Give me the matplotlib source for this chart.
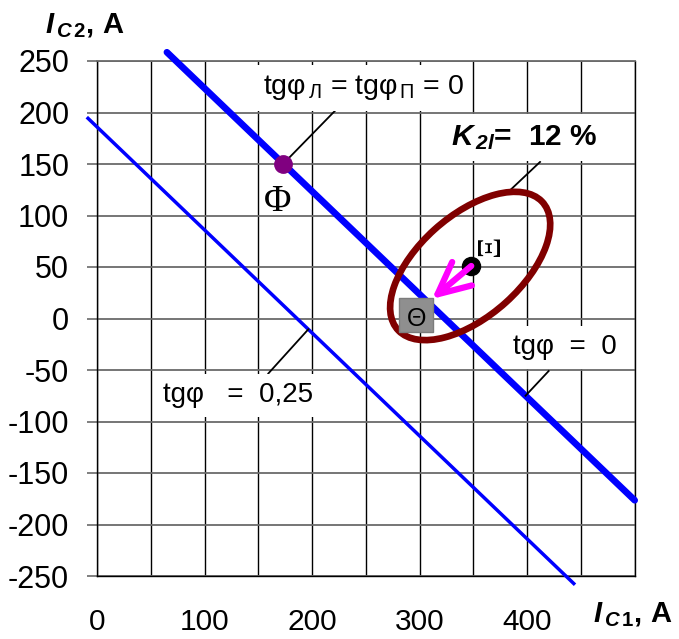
import matplotlib
matplotlib.use("Agg")
import matplotlib.pyplot as plt
from matplotlib.patches import Ellipse, FancyArrowPatch, ArrowStyle

plt.rcParams["font.family"] = ["Liberation Sans", "DejaVu Sans"]
plt.rcParams["mathtext.fontset"] = "custom"
plt.rcParams["mathtext.rm"] = "Liberation Sans"
plt.rcParams["mathtext.it"] = "Liberation Sans:italic"
plt.rcParams["mathtext.bf"] = "Liberation Sans:bold"
plt.rcParams["mathtext.bfit"] = "Liberation Sans:italic:bold"

# ---- axes ----
x_grid = [0, 50, 100, 150, 200, 250, 300, 350, 400, 450, 500]
x_labels = [0, 100, 200, 300, 400]
y_ticks = [-250, -200, -150, -100, -50, 0, 50, 100, 150, 200, 250]

# ---- lines of constant tg(phi) ----
tg0_x = [65, 500]
tg0_y = [258.5, -176.5]
tg025_x = [-9.5, 444.5]
tg025_y = [195.5, -258.5]

# ---- operating points ----
phi_pt = (173, 150)      # tg(phi_L) = tg(phi_P) = 0
xi_pt = (348, 51)        # current state
theta_pt = (297, 3)      # compensated state
arrow_tip = (311.5, 19)

# ---- unbalance ellipse K2I = 12 % ----
ell_center = (347, 51)
ell_width = 183
ell_height = 97
ell_angle = 43.3

# ---- leader lines ----
lead_phi_x = [173, 223.5]
lead_phi_y = [150, 204]
lead_k_x = [384.2, 412]
lead_k_y = [124.6, 152]
lead_tg0_x = [398.5, 420]
lead_tg0_y = [-75, -51]
lead_tg025_x = [196.5, 159.3]
lead_tg025_y = [-10.5, -53.4]

fig = plt.figure(figsize=(6.79, 6.39), dpi=100)
ax = fig.add_axes([97 / 679, 63 / 639, 537.7 / 679, 515 / 639])
ax.set_xlim(0, 500)
ax.set_ylim(-250, 250)

ax.set_xticks(x_grid, minor=True)
ax.set_xticks(x_labels)
ax.set_xticklabels([str(v) for v in x_labels])
ax.set_yticks(y_ticks)
ax.set_yticklabels([str(v) for v in y_ticks])
ax.tick_params(axis="x", which="both", length=0, pad=23, labelsize=21.5)
ax.tick_params(axis="y", length=7, width=1.2, color="#6a6a6a", pad=13, labelsize=22)

ax.grid(axis="x", which="both", color="black", lw=1.0, zorder=0)
ax.grid(axis="y", color="#6a6a6a", lw=1.3, zorder=0)
ax.set_axisbelow(True)
for s in ("left", "right", "bottom"):
    ax.spines[s].set_color("black")
    ax.spines[s].set_linewidth(1.0)
ax.spines["top"].set_color("#6a6a6a")
ax.spines["top"].set_linewidth(1.3)

# blue lines
ax.plot(tg0_x, tg0_y, color="#0000ff", lw=4.8, solid_capstyle="round",
        clip_on=False, zorder=3)
ax.plot(tg025_x, tg025_y, color="#0000ff", lw=2.5, solid_capstyle="butt",
        clip_on=False, zorder=3)

# ellipse
ax.add_patch(Ellipse(ell_center, ell_width, ell_height, angle=ell_angle,
                     fill=False, edgecolor="#800000", lw=4.8, zorder=4))

# leader lines
for lx, ly in ((lead_phi_x, lead_phi_y), (lead_k_x, lead_k_y),
               (lead_tg0_x, lead_tg0_y), (lead_tg025_x, lead_tg025_y)):
    ax.plot(lx, ly, color="black", lw=1.3, zorder=3.5)

# points
ax.plot(*phi_pt, "o", color="#800080", ms=12.5, zorder=6)
ax.plot(*xi_pt, "o", color="black", ms=13, zorder=6)
ax.plot(*theta_pt, "s", color="#8f8f8f", mec="#7c7c7c", ms=24, zorder=5)

# arrow from current to compensated state
arr = FancyArrowPatch(xi_pt, arrow_tip,
                      arrowstyle=ArrowStyle("->", head_length=23, head_width=11),
                      mutation_scale=1, color="#ff00ff", lw=4.5,
                      capstyle="round", joinstyle="round",
                      shrinkA=0, shrinkB=0, zorder=7)
ax.add_patch(arr)

# point labels
ax.text(168, 113, "Φ", fontsize=27, family="Liberation Serif",
        ha="center", va="center", zorder=6)
ax.text(theta_pt[0], theta_pt[1] - 3, "Θ", fontsize=18,
        ha="center", va="center", zorder=8)
ax.text(366.5, 71, "Ξ", fontsize=24, family="Liberation Serif", rotation=90,
        ha="center", va="center", zorder=6)

box = dict(facecolor="white", edgecolor="none", boxstyle="square,pad=0.3")

ax.text(154, 224, r"tgφ$_{\,\mathrm{Л}}$ = tgφ$_{\,\mathrm{П}}$ = 0",
        fontsize=20.5, ha="left", va="center", bbox=box, zorder=5)
ax.text(329, 176, r"$\mathbfit{K}_{\,\mathbfit{2l}}$=  12 %",
        fontsize=21.5, fontweight="bold", ha="left", va="center",
        bbox=box, zorder=5)
ax.text(387, -28, "tgφ  =  0", fontsize=20, ha="left", va="center",
        bbox=box, zorder=5)
ax.text(61, -74.5, "tgφ   =  0,25", fontsize=20, ha="left", va="center",
        bbox=box, zorder=5)

# axis titles
fig.text(45 / 679, 1 - 33 / 639, r"$\mathbfit{I}_{\,\mathbfit{C}\,\mathbf{2}}$, A",
         fontsize=21, fontweight="bold", ha="left", va="baseline")
fig.text(593 / 679, 1 - 622 / 639, r"$\mathbfit{I}_{\,\mathbfit{C}\,\mathbf{1}}$, A",
         fontsize=21, fontweight="bold", ha="left", va="baseline")

fig.savefig("out.png", dpi=100)
